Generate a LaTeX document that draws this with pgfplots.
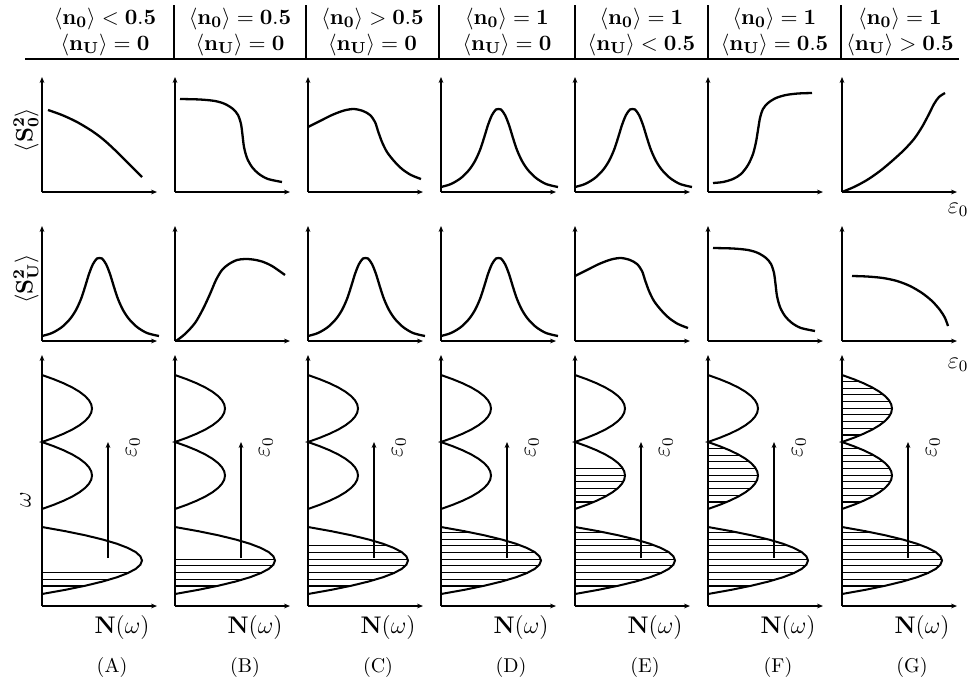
\documentclass[border=0pt,11pt]{standalone}
\usepackage{pgfplots}
\pgfplotsset{compat=1.18}
\usepackage{pgfplotstable}
\usetikzlibrary{arrows.meta}

% ---------- curve shapes (x: eps_0, y: correlation) ----------
\pgfplotstableread{
x y
6 82
20 77
35 70
50 61
62 52
75 40
88 27
100 15
}\shapeFall
\pgfplotstableread{
x y
5 93
25 92.5
40 91
50 88
58 83
63 77
66 68
67.5 57
69 45
72 34
77 25
84 18
93 13
107 10
}\shapeStep
\pgfplotstableread{
x y
0 65
12 71
24 77
36 81.5
46 83
55 81
62 77
67 70
70 61
74 50
79 40
86 31
94 23
103 17
113 13
}\shapeHump
\pgfplotstableread{
x y
0 5
10 8
20 14
28 22
34 31
39 42
43 54
47 67
51 77
55 82.5
57.5 83
60 82.5
64 77
68 67
72 54
76 42
81 31
87 22
95 14
105 8
117 5
}\shapeBell
\pgfplotstableread{
x y
5 9
15 10
25 13
33 18
40 27
45 38
48 50
50 62
52 74
55 83
60 89
68 94
78 97
90 98.5
104 99
}\shapeRise
\pgfplotstableread{
x y
0 0
12 5
25 12
38 21
50 31
62 42
72 53
80 65
87 78
92 88
97 95
103 99
}\shapeGrow
\pgfplotstableread{
x y
1 0
10 7
20 18
28 32
35 47
41 61
47 71
54 77
62 81
70 82
78 81.5
87 79.5
97 75
110 66
}\shapeSwell
\pgfplotstableread{
x y
10 65
25 64.5
41 63
55 60
68 55
80 48
90 40
98 31
103 23
106 15
}\shapeSag

% ---------- density of states: three bands ----------
\pgfplotstableread{
N w
0 12
23.4 16.19
43.75 20.38
60.9 24.56
75 28.75
85.9 32.94
93.75 37.13
98.4 41.31
100 45.5
98.4 49.69
93.75 53.88
85.9 58.06
75 62.25
60.9 66.44
43.75 70.63
23.4 74.81
0 79
}\bandLow
\pgfplotstableread{
N w
0 97
11.7 101.19
21.88 105.38
30.47 109.56
37.5 113.75
42.97 117.94
46.88 122.13
49.22 126.31
50 130.5
49.22 134.69
46.88 138.88
42.97 143.06
37.5 147.25
30.47 151.44
21.88 155.63
11.7 159.81
0 164
11.7 168.19
21.88 172.38
30.47 176.56
37.5 180.75
42.97 184.94
46.88 189.13
49.22 193.31
50 197.5
49.22 201.69
46.88 205.88
42.97 210.06
37.5 214.25
30.47 218.44
21.88 222.63
11.7 226.81
0 231
}\bandUp
% occupied states (hatching)
\pgfplotstableread{
N w
42.1 20
68.5 26.7
87.0 33.4
97.4 40.1
99.8 46.8
94.3 53.5
80.7 60.2
59.2 66.9
29.6 73.6
}\hatchLow
\pgfplotstableread{
N w
18.7 104
32.5 110.7
42.4 117.4
48.2 124.1
50.0 130.8
47.8 137.5
41.6 144.2
31.5 150.9
17.3 157.6
}\hatchMid
\pgfplotstableread{
N w
18.7 171
32.5 177.7
42.4 184.4
48.2 191.1
50.0 197.8
47.8 204.5
41.6 211.2
31.5 217.9
17.3 224.6
}\hatchTop

\pgfplotsset{
  panel/.style={scale only axis, width=57.5pt, axis lines=left,
    xmin=0, xmax=115, ymin=0, xtick=\empty, ytick=\empty,
    clip=false, anchor=south west,
    axis line style={line width=0.6pt, -{Stealth[length=3pt,width=2.4pt]}}},
  curverow/.style={panel, height=57.5pt, ymax=115},
  dosrow/.style={panel, height=125.5pt, ymax=251},
  curve/.style={line width=1.15pt, smooth, black},
  band/.style={line width=1pt, black},
  hatch/.style={xcomb, line width=0.55pt, black},
}

\newcommand{\curvepanel}[3]{%
  \begin{axis}[curverow, at={(#1,#2)}]
    \addplot[curve] table {#3};
  \end{axis}}

\newcommand{\dospanel}[2]{%
  \begin{axis}[dosrow, at={(#1,-303pt)}]
    #2
    \addplot[band] table[x=N,y=w] {\bandLow};
    \addplot[band] table[x=N,y=w] {\bandUp};
    \addplot[line width=0.6pt, -{Stealth[length=3pt,width=2.4pt]}]
      coordinates {(66,48) (66,164)};
    \node[rotate=90, font=\large] at (axis cs:91,159) {$\varepsilon_0$};
  \end{axis}}

\newcommand{\nz}{\langle\mathbf{n}_{\mathbf{0}}\rangle}
\newcommand{\nU}{\langle\mathbf{n}_{\mathbf{U}}\rangle}
\newcommand{\hd}[3]{%
  \node[anchor=base, font=\normalsize, inner sep=0pt] at (#1,-12pt) {$#2$};
  \node[anchor=base, font=\normalsize, inner sep=0pt] at (#1,-25pt) {$#3$};}

\begin{document}
\begin{tikzpicture}
\useasboundingbox (0,0) rectangle (485pt,-343.5pt);

% header
\hd{52.5pt}{\nz<\mathbf{0.5}}{\nU=\mathbf{0}}
\hd{120pt}{\nz=\mathbf{0.5}}{\nU=\mathbf{0}}
\hd{186.25pt}{\nz>\mathbf{0.5}}{\nU=\mathbf{0}}
\hd{253.5pt}{\nz=\mathbf{1}}{\nU=\mathbf{0}}
\hd{320.75pt}{\nz=\mathbf{1}}{\nU<\mathbf{0.5}}
\hd{387.25pt}{\nz=\mathbf{1}}{\nU=\mathbf{0.5}}
\hd{450pt}{\nz=\mathbf{1}}{\nU>\mathbf{0.5}}
\draw[line width=1pt] (12.5pt,-29.4pt) -- (479.5pt,-29.4pt);
\foreach \sx in {87,153,219.5,287.5,354,420.5}
  \draw[line width=0.6pt] (\sx pt,-2.5pt) -- (\sx pt,-29pt);

% side labels
\node[rotate=90, font=\large] at (13pt,-65pt) {$\langle\mathbf{S}^{\mathbf{2}}_{\mathbf{0}}\rangle$};
\node[rotate=90, font=\large] at (13pt,-139.5pt) {$\langle\mathbf{S}^{\mathbf{2}}_{\mathbf{U}}\rangle$};
\node[rotate=90, font=\large] at (12.75pt,-249.75pt) {$\omega$};
\node[font=\large] at (479pt,-105pt) {$\varepsilon_0$};
\node[font=\large] at (479pt,-182.5pt) {$\varepsilon_0$};

% first row: on-site moment of the impurity
\curvepanel{21pt}{-96pt}{\shapeFall}
\curvepanel{87.5pt}{-96pt}{\shapeStep}
\curvepanel{154pt}{-96pt}{\shapeHump}
\curvepanel{220.5pt}{-96pt}{\shapeBell}
\curvepanel{287.5pt}{-96pt}{\shapeBell}
\curvepanel{354pt}{-96pt}{\shapeRise}
\curvepanel{421pt}{-96pt}{\shapeGrow}

% second row: moment on the U site
\curvepanel{21pt}{-170.5pt}{\shapeBell}
\curvepanel{87.5pt}{-170.5pt}{\shapeSwell}
\curvepanel{154pt}{-170.5pt}{\shapeBell}
\curvepanel{220.5pt}{-170.5pt}{\shapeBell}
\curvepanel{287.5pt}{-170.5pt}{\shapeHump}
\curvepanel{354pt}{-170.5pt}{\shapeStep}
\curvepanel{421pt}{-170.5pt}{\shapeSag}

% third row: density of states with filled levels
\dospanel{21pt}{\addplot[hatch, restrict y to domain=0:35] table[x=N,y=w] {\hatchLow};}
\dospanel{87.5pt}{\addplot[hatch, restrict y to domain=0:48] table[x=N,y=w] {\hatchLow};}
\dospanel{154pt}{\addplot[hatch, restrict y to domain=0:62] table[x=N,y=w] {\hatchLow};}
\dospanel{220.5pt}{\addplot[hatch] table[x=N,y=w] {\hatchLow};}
\dospanel{287.5pt}{\addplot[hatch] table[x=N,y=w] {\hatchLow};
  \addplot[hatch, restrict y to domain=0:139] table[x=N,y=w] {\hatchMid};}
\dospanel{354pt}{\addplot[hatch] table[x=N,y=w] {\hatchLow};
  \addplot[hatch] table[x=N,y=w] {\hatchMid};}
\dospanel{421pt}{\addplot[hatch] table[x=N,y=w] {\hatchLow};
  \addplot[hatch] table[x=N,y=w] {\hatchMid};
  \addplot[hatch] table[x=N,y=w] {\hatchTop};}

% axis names and panel letters
\foreach \px/\lt in {21/A,87.5/B,154/C,220.5/D,287.5/E,354/F,421/G}{
  \node[font=\large] at (\px pt+40pt,-313.5pt) {$\mathbf{N}(\omega)$};
  \node[font=\small] at (\px pt+35pt,-333.5pt) {(\lt)};
}
\end{tikzpicture}
\end{document}
